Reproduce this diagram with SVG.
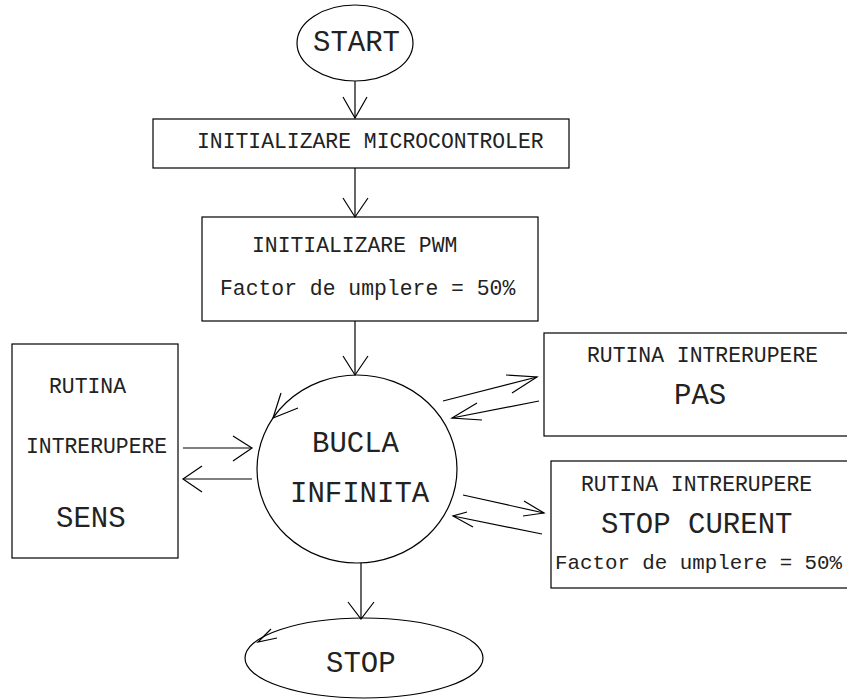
<svg xmlns="http://www.w3.org/2000/svg" width="847" height="699" viewBox="0 0 847 699">
  <style>
    .shape { fill: #ffffff; stroke: #000000; stroke-width: 1.2; }
    .line { fill: none; stroke: #000000; stroke-width: 1.2; }
    .sm { font-family: "Liberation Mono", "Courier New", monospace; font-size: 21.4px; fill: #222222; }
    .lg { font-family: "Liberation Mono", "Courier New", monospace; font-size: 29px; fill: #222222; }
  </style>
  <rect width="847" height="699" fill="#ffffff"/>

  <g id="start">
    <ellipse class="shape" cx="355" cy="43" rx="58" ry="38"/>
    <text class="lg" x="313" y="51">START</text>
  </g>

  <g id="init-micro">
    <rect class="shape" x="153" y="119" width="416" height="49"/>
    <text class="sm" x="197" y="148">INITIALIZARE MICROCONTROLER</text>
  </g>

  <g id="init-pwm">
    <rect class="shape" x="202" y="217" width="336" height="104"/>
    <text class="sm" x="252" y="252">INITIALIZARE PWM</text>
    <text class="sm" x="220" y="295">Factor de umplere = 50%</text>
  </g>

  <g id="bucla">
    <ellipse class="shape" cx="357" cy="469" rx="100" ry="94"/>
    <text class="lg" x="312" y="452">BUCLA</text>
    <text class="lg" x="290" y="502">INFINITA</text>
    <polyline class="line" points="281,393 273,418 298,408"/>
  </g>

  <g id="sens">
    <rect class="shape" x="12" y="344" width="166" height="214"/>
    <text class="sm" x="49" y="393">RUTINA</text>
    <text class="sm" x="26" y="453">INTRERUPERE</text>
    <text class="lg" x="56" y="527">SENS</text>
  </g>

  <g id="pas">
    <rect class="shape" x="544" y="333" width="310" height="103"/>
    <text class="sm" x="587" y="362">RUTINA INTRERUPERE</text>
    <text class="lg" x="674" y="404">PAS</text>
  </g>

  <g id="stop-curent">
    <rect class="shape" x="551" y="461" width="310" height="127"/>
    <text class="sm" x="581" y="491">RUTINA INTRERUPERE</text>
    <text class="lg" x="601" y="533">STOP CURENT</text>
    <text class="sm" x="555" y="569" style="font-size:20.8px">Factor de umplere = 50%</text>
  </g>

  <g id="stop">
    <ellipse class="shape" cx="364" cy="658" rx="119" ry="40"/>
    <text class="lg" x="326" y="672">STOP</text>
    <polyline class="line" points="271,629 258,642 277,638"/>
  </g>

  <g id="connectors">
    <!-- START -> init microcontroler -->
    <line class="line" x1="355" y1="81" x2="355" y2="118"/>
    <polyline class="line" points="343,97 355,118 367,97"/>
    <!-- init microcontroler -> init PWM -->
    <line class="line" x1="355" y1="168" x2="355" y2="217"/>
    <polyline class="line" points="343,198 355,217 368,198"/>
    <!-- init PWM -> loop -->
    <line class="line" x1="355" y1="321" x2="355" y2="375"/>
    <polyline class="line" points="343,356 355,375 368,356"/>
    <!-- loop <-> SENS -->
    <line class="line" x1="183" y1="448" x2="252" y2="448"/>
    <polyline class="line" points="233,436 252,448 233,461"/>
    <line class="line" x1="252" y1="479" x2="183" y2="479"/>
    <polyline class="line" points="202,466 183,479 202,492"/>
    <!-- loop <-> PAS -->
    <line class="line" x1="443" y1="401" x2="537" y2="377"/>
    <polyline class="line" points="506,375 537,377 512,393"/>
    <line class="line" x1="539" y1="401" x2="452" y2="418"/>
    <polyline class="line" points="477,403 452,418 482,420"/>
    <!-- loop <-> STOP CURENT -->
    <line class="line" x1="463" y1="495" x2="544" y2="513"/>
    <polyline class="line" points="524,501 544,513 523,516"/>
    <line class="line" x1="542" y1="534" x2="453" y2="516"/>
    <polyline class="line" points="467,512 453,516 473,527"/>
    <!-- loop -> STOP -->
    <line class="line" x1="361" y1="563" x2="361" y2="619"/>
    <polyline class="line" points="348,602 361,619 374,602"/>
  </g>
</svg>
